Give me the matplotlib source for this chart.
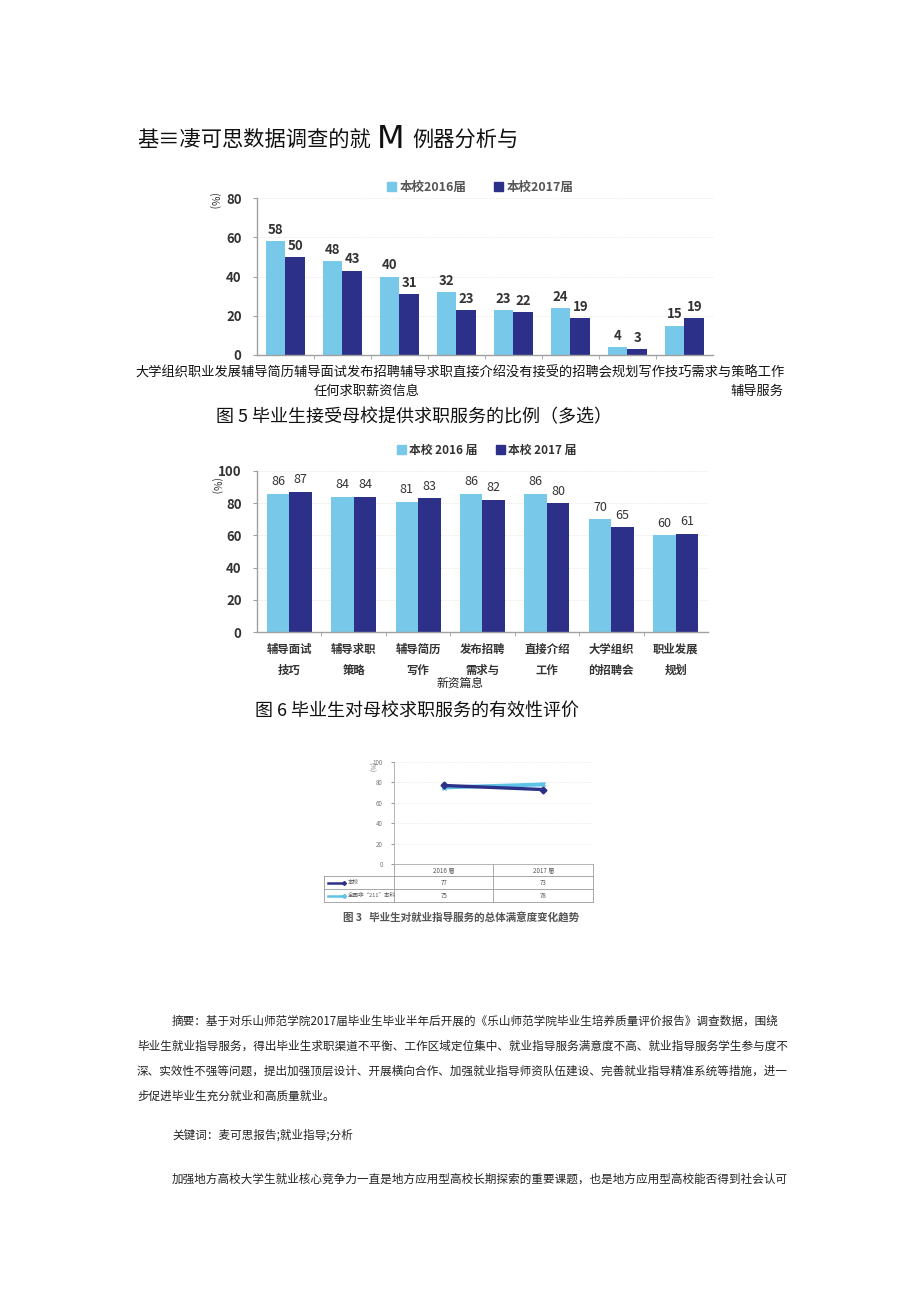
import matplotlib
matplotlib.use("Agg")
import matplotlib.pyplot as plt
from matplotlib.lines import Line2D
from matplotlib.patches import Patch
import numpy as np

plt.rcParams['font.family'] = ['Noto Sans CJK SC', 'DejaVu Sans']

# ---- data ----
fig5_2016 = [58, 48, 40, 32, 23, 24, 4, 15]
fig5_2017 = [50, 43, 31, 23, 22, 19, 3, 19]
fig5_labels_line1 = "大学组织职业发展辅导简历辅导面试发布招聘辅导求职直接介绍没有接受的招聘会规划写作技巧需求与策略工作"
fig5_labels_line2a = "任何求职薪资信息"
fig5_labels_line2b = "辅导服务"

fig6_cats = ["辅导面试\n技巧", "辅导求职\n策略", "辅导简历\n写作", "发布招聘\n需求与",
             "直接介绍\n工作", "大学组织\n的招聘会", "职业发展\n规划"]
fig6_2016 = [86, 84, 81, 86, 86, 70, 60]
fig6_2017 = [87, 84, 83, 82, 80, 65, 61]

fig3_years = ["2016 届", "2017 届"]
fig3_school = [77, 73]
fig3_national = [75, 78]
fig3_series = ["本校", "全国非“211”本科"]

body_lines = [
    "摘要：基于对乐山师范学院2017届毕业生毕业半年后开展的《乐山师范学院毕业生培养质量评价报告》调查数据，围绕",
    "毕业生就业指导服务，得出毕业生求职渠道不平衡、工作区域定位集中、就业指导服务满意度不高、就业指导服务学生参与度不",
    "深、实效性不强等问题，提出加强顶层设计、开展横向合作、加强就业指导师资队伍建设、完善就业指导精准系统等措施，进一",
    "步促进毕业生充分就业和高质量就业。",
]
keywords = "关键词：麦可思报告;就业指导;分析"
last_line = "加强地方高校大学生就业核心竞争力一直是地方应用型高校长期探索的重要课题，也是地方应用型高校能否得到社会认可"

LIGHT = '#78c8ea'
DARK = '#2c3089'
TXT = '#333333'

W, H = 920, 1301
fig = plt.figure(figsize=(W / 100, H / 100), dpi=100)


def fx(x):
    return x / W


def fy(y):
    return 1 - y / H


def axes_at(x0, y0, x1, y1):
    # pixel box (left, top, right, bottom)
    return fig.add_axes([fx(x0), fy(y1), (x1 - x0) / W, (y1 - y0) / H])


def style_bar_axes(ax, n, ymax, step):
    ax.set_xlim(-0.5, n - 0.5)
    ax.set_ylim(0, ymax)
    ax.set_yticks(np.arange(0, ymax + 1, step))
    for s in ['top', 'right']:
        ax.spines[s].set_visible(False)
    for s in ['left', 'bottom']:
        ax.spines[s].set_color('#a0a0a0')
        ax.spines[s].set_linewidth(1.0)
    ax.set_xticks(np.arange(n - 1) + 0.5, minor=True)
    ax.tick_params(axis='x', which='minor', length=3, color='#a0a0a0', direction='out')
    ax.tick_params(axis='y', length=3, color='#a0a0a0', labelsize=9.5, labelcolor=TXT, pad=8)
    for lab in ax.get_yticklabels():
        lab.set_fontweight('bold')
    ax.grid(axis='y', linestyle=':', color='#e6dcdc', linewidth=0.6)
    ax.set_axisbelow(True)


# ---- title ----
fig.text(fx(137), fy(140), "基≡凄可思数据调查的就", fontsize=15.3, va='center', ha='left', color='#111111')
fig.text(fx(377), fy(139), "M", fontsize=23, va='center', ha='left', color='#111111',
         family=['DejaVu Sans'])
fig.text(fx(412), fy(140), "例器分析与", fontsize=15.3, va='center', ha='left', color='#111111')

# ---- figure 5 ----
ax1 = axes_at(257, 198, 713, 355)
x = np.arange(len(fig5_2016))
bw = 0.35
b1 = ax1.bar(x - bw / 2, fig5_2016, bw, color=LIGHT, label='本校2016届')
b2 = ax1.bar(x + bw / 2, fig5_2017, bw, color=DARK, label='本校2017届')
style_bar_axes(ax1, len(fig5_2016), 80, 20)
ax1.set_xticks(x)
ax1.tick_params(axis='x', which='major', length=0, labelbottom=False)
for bars in (b1, b2):
    ax1.bar_label(bars, padding=3, fontsize=9.5, fontweight='bold', color=TXT)
ax1.legend(handles=[Patch(color=LIGHT, label='本校2016届'), Patch(color=DARK, label='本校2017届')],
           loc='center', bbox_to_anchor=(0.49, 1.07), ncol=2, frameon=False,
           handlelength=0.7, handleheight=0.7, handletextpad=0.3, columnspacing=2.2,
           prop={'size': 9, 'weight': 'bold'}, labelcolor='#555555')
fig.text(fx(213), fy(201), "(%)", rotation=-90, fontsize=7.5, ha='center', va='center', color=TXT)
fig.text(fx(460), fy(373), fig5_labels_line1, fontsize=9.5, ha='center', va='center', color='#111111')
fig.text(fx(367), fy(391), fig5_labels_line2a, fontsize=9.5, ha='center', va='center', color='#111111')
fig.text(fx(783), fy(391), fig5_labels_line2b, fontsize=9.5, ha='right', va='center', color='#111111')

fig.text(fx(414), fy(417), "图 5 毕业生接受母校提供求职服务的比例（多选）", fontsize=13,
         ha='center', va='center', color='#111111')

# ---- figure 6 ----
ax2 = axes_at(257, 471, 708, 632)
x = np.arange(len(fig6_2016))
c1 = ax2.bar(x - bw / 2, fig6_2016, bw, color=LIGHT)
c2 = ax2.bar(x + bw / 2, fig6_2017, bw, color=DARK)
style_bar_axes(ax2, len(fig6_2016), 100, 20)
ax2.set_xticks(x)
ax2.set_xticklabels(fig6_cats, fontsize=8.2, fontweight='bold', color=TXT, linespacing=1.75)
ax2.tick_params(axis='x', which='major', length=0, pad=8)
for bars in (c1, c2):
    ax2.bar_label(bars, padding=4, fontsize=9, color=TXT)
ax2.legend(handles=[Patch(color=LIGHT, label='本校 2016 届'), Patch(color=DARK, label='本校 2017 届')],
           loc='center', bbox_to_anchor=(0.51, 1.13), ncol=2, frameon=False,
           handlelength=0.7, handleheight=0.7, handletextpad=0.3, columnspacing=1.6,
           prop={'size': 8.5, 'weight': 'bold'}, labelcolor=TXT)
fig.text(fx(215), fy(486), "(%)", rotation=-90, fontsize=7.5, ha='center', va='center', color=TXT)
fig.text(fx(460), fy(683), "新资篇息", fontsize=8.5, ha='center', va='center', color='#222222')

fig.text(fx(417), fy(711), "图 6 毕业生对母校求职服务的有效性评价", fontsize=13,
         ha='center', va='center', color='#111111')

# ---- figure 3 (small line chart with data table) ----
ax3 = axes_at(394, 762, 593, 864)
xx = np.arange(len(fig3_years))
ax3.plot(xx, fig3_national, color='#5ec3e6', lw=2.8, marker='x', ms=3, zorder=3)
ax3.plot(xx, fig3_school, color=DARK, lw=2.4, marker='D', ms=3.5, zorder=3)
ax3.set_xlim(-0.5, 1.5)
ax3.set_ylim(0, 100)
ax3.set_yticks(np.arange(0, 101, 20))
ax3.set_xticks([])
ax3.tick_params(axis='y', length=2, labelsize=4.5, labelcolor='#777777', color='#999999', pad=6)
for s in ['top', 'right']:
    ax3.spines[s].set_visible(False)
ax3.spines['left'].set_color('#aaaaaa')
ax3.spines['bottom'].set_color('#aaaaaa')
ax3.spines['left'].set_linewidth(0.6)
ax3.spines['bottom'].set_linewidth(0.6)
ax3.grid(axis='y', linestyle=':', color='#dddddd', linewidth=0.5)
fig.text(fx(371), fy(767), "(%)", rotation=-90, fontsize=4.5, ha='center', va='center', color='#777777')

# data table drawn under the axes
t = ax3.transAxes
left = -0.35
hdr, r1, r2 = -0.118, -0.245, -0.373
lk = dict(color='#9a9a9a', lw=0.6, transform=t, clip_on=False)
ax3.plot([left, 1], [hdr, hdr], **lk)
ax3.plot([left, 1], [r1, r1], **lk)
ax3.plot([left, 1], [r2, r2], **lk)
ax3.plot([left, left], [hdr, r2], **lk)
for vx in (0, 0.5, 1):
    ax3.plot([vx, vx], [0, r2], **lk)
for i, yr in enumerate(fig3_years):
    ax3.text(0.25 + 0.5 * i, hdr / 2, yr, transform=t, fontsize=4.5, ha='center', va='center', color='#555555')
rows_y = [(hdr + r1) / 2, (r1 + r2) / 2]
row_vals = [fig3_school, fig3_national]
row_cols = [DARK, '#5ec3e6']
for j in range(2):
    ax3.add_line(Line2D([left + 0.02, left + 0.1], [rows_y[j], rows_y[j]], transform=t,
                        color=row_cols[j], lw=1.8, marker='D', ms=2, markevery=[1], clip_on=False))
    ax3.text(left + 0.12, rows_y[j], fig3_series[j], transform=t, fontsize=4,
             ha='left', va='center', color='#555555')
    for i, v in enumerate(row_vals[j]):
        ax3.text(0.25 + 0.5 * i, rows_y[j], str(v), transform=t, fontsize=4.5,
                 ha='center', va='center', color='#555555')

fig.text(fx(461), fy(918), "图 3   毕业生对就业指导服务的总体满意度变化趋势", fontsize=7.6,
         fontweight='bold', ha='center', va='center', color='#555555')

# ---- body text ----
bfs = 8.33
fig.text(fx(172), fy(1021), body_lines[0], fontsize=bfs, ha='left', va='center', color='#222222')
for k, line in enumerate(body_lines[1:]):
    fig.text(fx(137), fy(1046 + 25 * k), line, fontsize=bfs, ha='left', va='center', color='#222222')
fig.text(fx(172), fy(1135), keywords, fontsize=bfs, ha='left', va='center', color='#222222')
fig.text(fx(172), fy(1179), last_line, fontsize=bfs, ha='left', va='center', color='#222222')

fig.savefig("out.png", dpi=100, facecolor='white')
